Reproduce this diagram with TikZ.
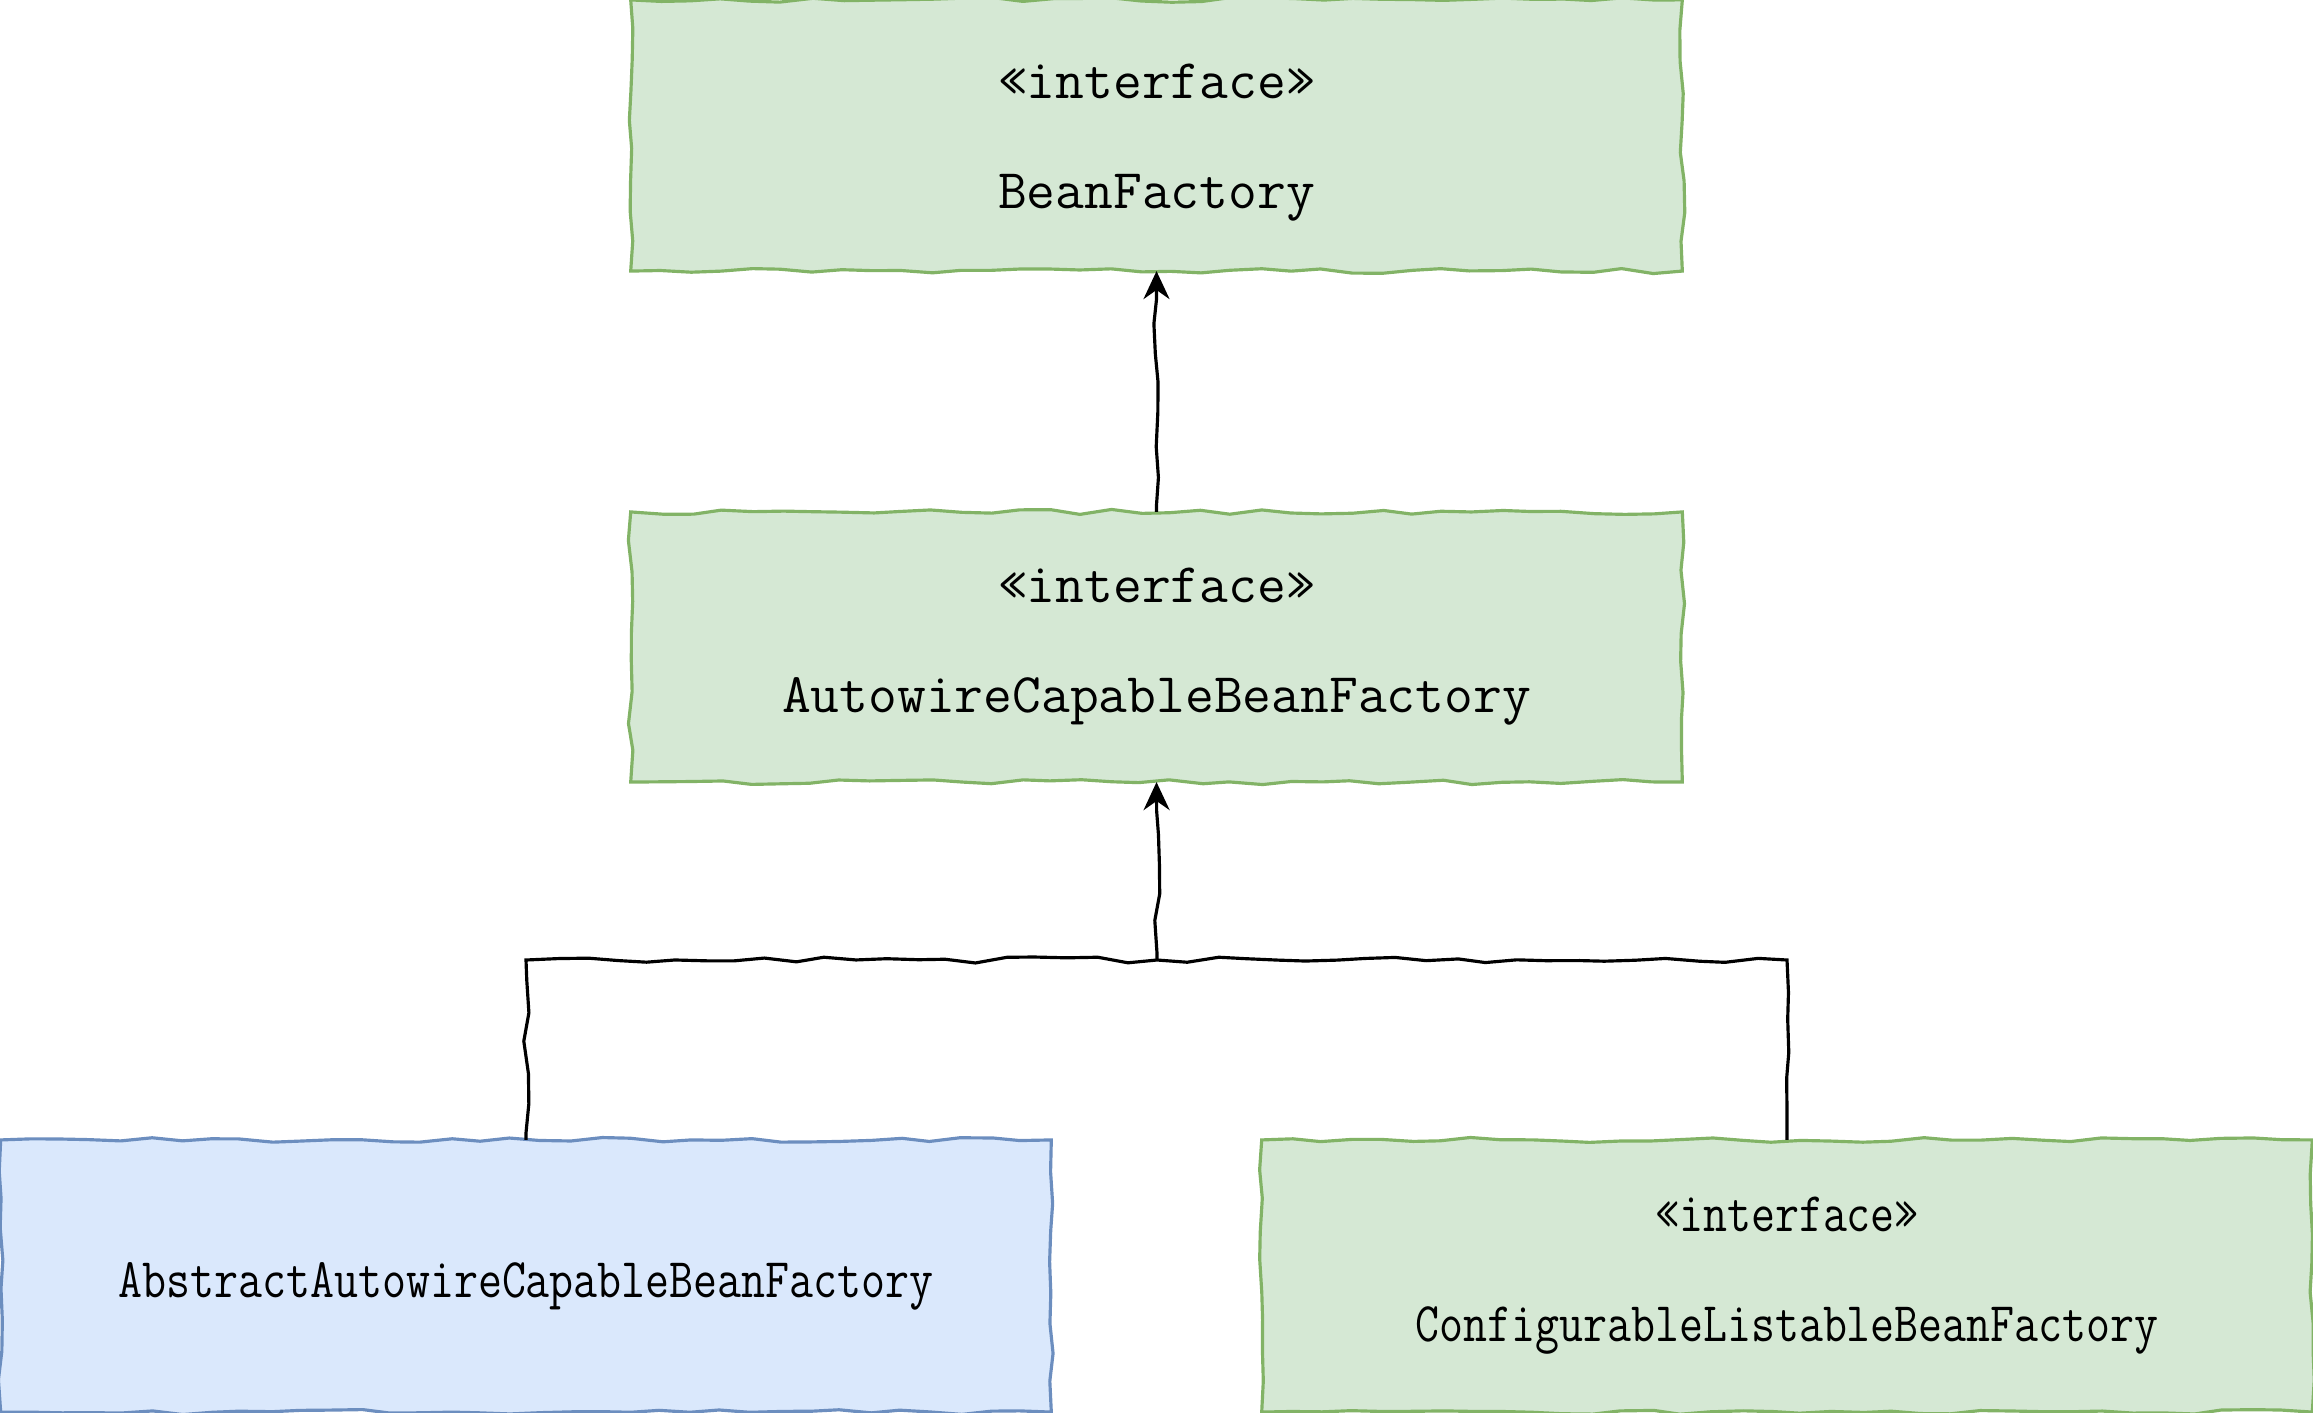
\documentclass[tikz,border=0pt]{standalone}
\usepackage{fontspec}
\newfontfamily\monoA{Latin Modern Mono}
\newfontfamily\monoB{Latin Modern Mono}[FakeStretch=0.833]
\usetikzlibrary{decorations.pathmorphing,arrows.meta}
\definecolor{gfill}{HTML}{D5E8D4}
\definecolor{gline}{HTML}{82B366}
\definecolor{bfill}{HTML}{DAE8FC}
\definecolor{bline}{HTML}{6C8EBF}
\newcommand\dropby[2]{\raisebox{-#1}[\height][\depth]{#2}}
\tikzset{
  sketch/.style={decorate,decoration={random steps,segment length=0.3cm,amplitude=0.025cm}},
  umlbox/.style={sketch,draw,line width=0.9pt,rectangle,inner sep=0pt,outer sep=0pt,
    align=center,font=\fontsize{15.9pt}{31.3pt}\selectfont\monoA},
  greenbox/.style={umlbox,fill=gfill,draw=gline},
  bluebox/.style={umlbox,fill=bfill,draw=bline},
  condfont/.style={font=\fontsize{15.9pt}{31.3pt}\selectfont\monoB},
  conn/.style={draw=black,line width=0.9pt,decorate,
    decoration={random steps,segment length=0.3cm,amplitude=0.03cm,pre length=2pt,post length=8pt}},
  tip/.style={-{Stealth[length=0.28cm,width=0.26cm]}}
}
\begin{document}
\begin{tikzpicture}[x=0.01cm,y=-0.01cm]
\pgfmathsetseed{7}
\useasboundingbox (0,0) rectangle (2313,1413);
\node[greenbox,minimum width=10.51cm,minimum height=2.71cm] (bf) at (1156.5,135.5) {\dropby{0.07cm}{«interface»}\\\dropby{0.07cm}{BeanFactory}};
\node[greenbox,minimum width=10.51cm,minimum height=2.70cm] (acbf) at (1156.5,647) {«interface»\\AutowireCapableBeanFactory};
\node[bluebox,condfont,minimum width=10.50cm,minimum height=2.72cm] (aacbf) at (526,1276) {\dropby{0.1cm}{AbstractAutowireCapableBeanFactory}};
\node[greenbox,condfont,minimum width=10.50cm,minimum height=2.72cm] (clbf) at (1787,1276) {«interface»\\ConfigurableListableBeanFactory};
\coordinate (j) at (1157,960);
\draw[conn,tip] (acbf.north) -- (bf.south);
\draw[conn] (aacbf.north) |- (j) -| (clbf.north);
\draw[conn,tip] (j) -- (acbf.south);
\end{tikzpicture}
\end{document}
